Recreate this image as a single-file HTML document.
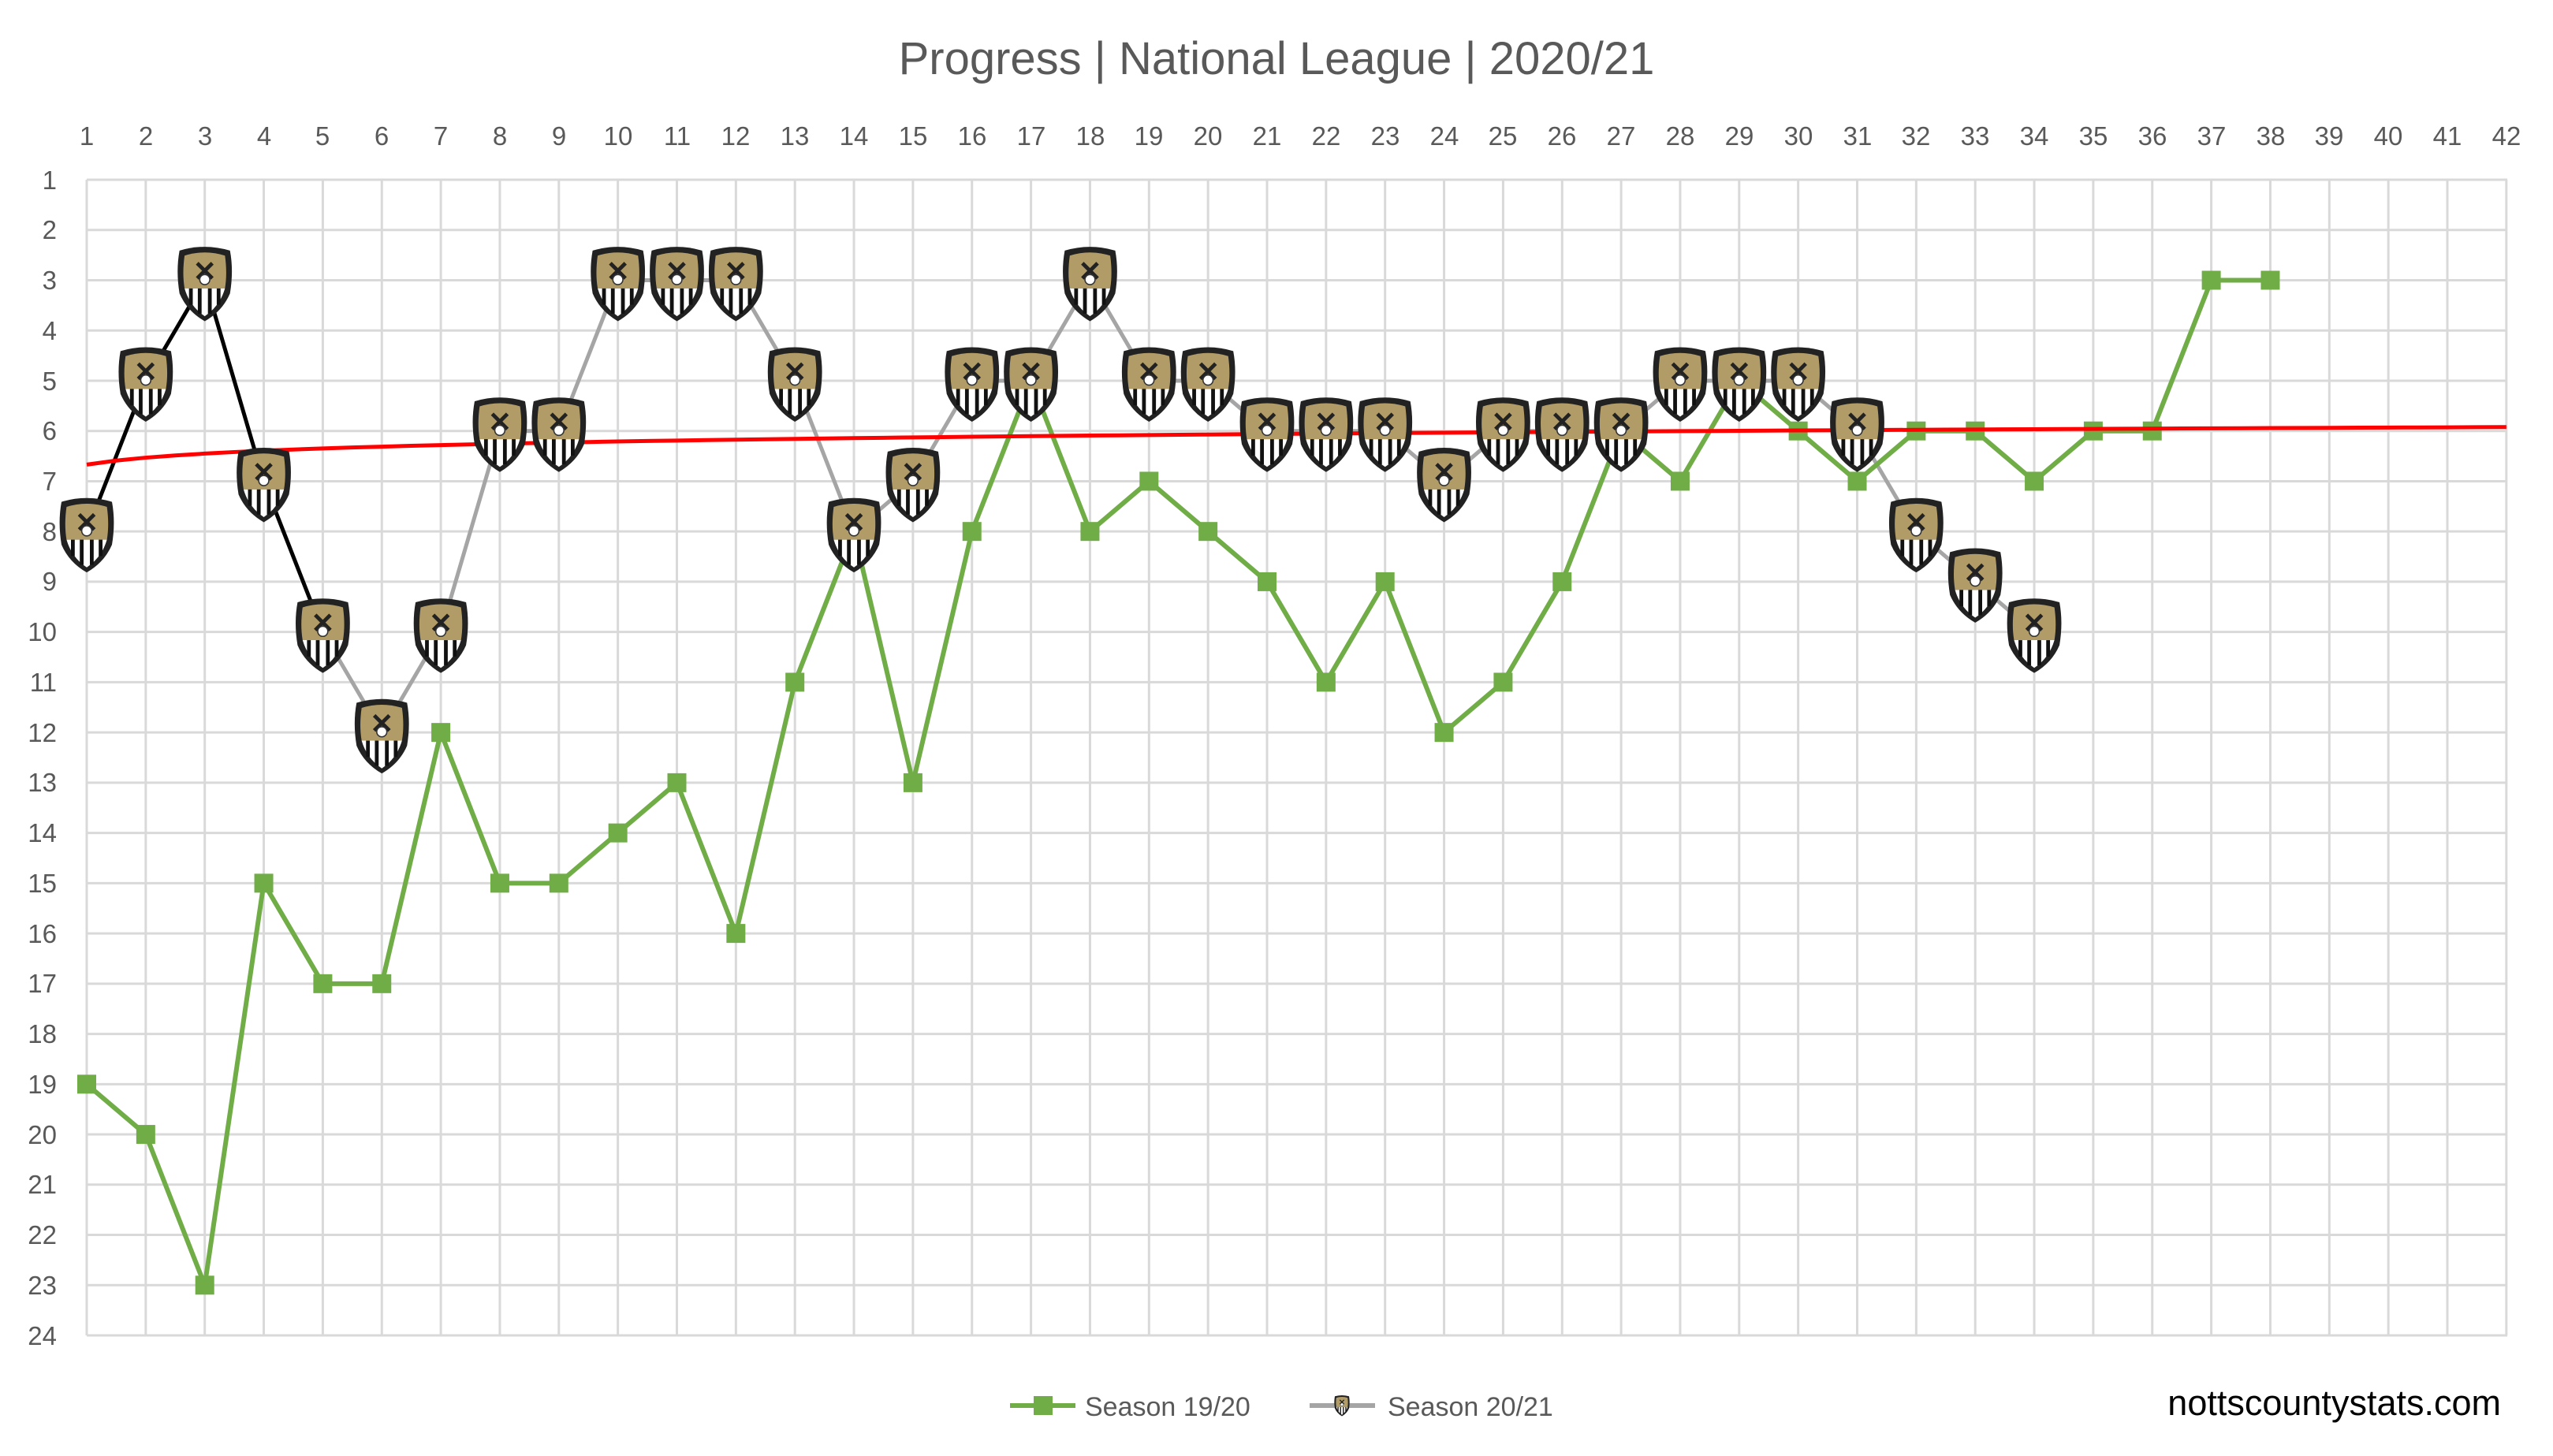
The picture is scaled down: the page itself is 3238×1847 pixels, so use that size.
<!DOCTYPE html>
<html><head><meta charset="utf-8"><style>
body{margin:0;background:#fff;}
svg text{font-family:"Liberation Sans",sans-serif;fill:#595959;}
</style></head><body>
<svg id="s" width="3238" height="1842" xmlns="http://www.w3.org/2000/svg">
<defs>
<g id="crest">
<path d="M-20,-26 Q0,-32 20,-26 Q23,-10 20,8 Q14,22 0,30 Q-14,22 -20,8 Q-23,-10 -20,-26Z" fill="#222"/>
<path d="M-16,-22 Q0,-27 16,-22 Q18,-8 16,4 L-16,4 Q-18,-8 -16,-22Z" fill="#b19c68"/>
<path d="M-16,4 L16,4 Q12,18 0,26 Q-12,18 -16,4Z" fill="#fff"/>
<g stroke="#111" stroke-width="3"><line x1="-11" y1="4" x2="-11" y2="17"/><line x1="-4" y1="4" x2="-4" y2="24"/><line x1="4" y1="4" x2="4" y2="24"/><line x1="11" y1="4" x2="11" y2="17"/></g>
<path d="M-6,-16 L6,-4 M6,-16 L-6,-4" stroke="#222" stroke-width="3"/>
<circle cx="0" cy="-3" r="4" fill="#fff" stroke="#333" stroke-width="1"/>
</g>
</defs>
<text x="1619" y="94" font-size="58" text-anchor="middle">Progress | National League | 2020/21</text>
<g id="grid" stroke="#d9d9d9" stroke-width="3"></g>
<g font-size="33" text-anchor="middle" id="xl">
<text x="110" y="184">1</text><text x="185" y="184">2</text><text x="260" y="184">3</text><text x="335" y="184">4</text><text x="409" y="184">5</text><text x="484" y="184">6</text><text x="559" y="184">7</text><text x="634" y="184">8</text><text x="709" y="184">9</text><text x="784" y="184">10</text><text x="859" y="184">11</text><text x="933" y="184">12</text><text x="1008" y="184">13</text><text x="1083" y="184">14</text><text x="1158" y="184">15</text><text x="1233" y="184">16</text><text x="1308" y="184">17</text><text x="1383" y="184">18</text><text x="1457" y="184">19</text><text x="1532" y="184">20</text><text x="1607" y="184">21</text><text x="1682" y="184">22</text><text x="1757" y="184">23</text><text x="1832" y="184">24</text><text x="1906" y="184">25</text><text x="1981" y="184">26</text><text x="2056" y="184">27</text><text x="2131" y="184">28</text><text x="2206" y="184">29</text><text x="2281" y="184">30</text><text x="2356" y="184">31</text><text x="2430" y="184">32</text><text x="2505" y="184">33</text><text x="2580" y="184">34</text><text x="2655" y="184">35</text><text x="2730" y="184">36</text><text x="2805" y="184">37</text><text x="2880" y="184">38</text><text x="2954" y="184">39</text><text x="3029" y="184">40</text><text x="3104" y="184">41</text><text x="3179" y="184">42</text>
</g>
<g font-size="33" text-anchor="end">
<text x="72" y="240">1</text><text x="72" y="303">2</text><text x="72" y="367">3</text><text x="72" y="431">4</text><text x="72" y="495">5</text><text x="72" y="558">6</text><text x="72" y="622">7</text><text x="72" y="686">8</text><text x="72" y="749">9</text><text x="72" y="813">10</text><text x="72" y="877">11</text><text x="72" y="941">12</text><text x="72" y="1004">13</text><text x="72" y="1068">14</text><text x="72" y="1132">15</text><text x="72" y="1196">16</text><text x="72" y="1259">17</text><text x="72" y="1323">18</text><text x="72" y="1387">19</text><text x="72" y="1451">20</text><text x="72" y="1514">21</text><text x="72" y="1578">22</text><text x="72" y="1642">23</text><text x="72" y="1706">24</text>
</g>
<g id="data"></g>
<line x1="1281" y1="1783" x2="1364" y2="1783" stroke="#70ad47" stroke-width="6"/>
<rect x="1311" y="1771" width="24" height="24" fill="#70ad47"/>
<text x="1376" y="1796" font-size="34">Season 19/20</text>
<line x1="1661" y1="1783" x2="1744" y2="1783" stroke="#a5a5a5" stroke-width="6"/>
<use href="#crest" transform="translate(1702,1783) scale(0.45)"/>
<text x="1760" y="1796" font-size="34">Season 20/21</text>
<text x="3172" y="1795" font-size="45" text-anchor="end" style="fill:#000">nottscountystats.com</text>
</svg>
<script>
var NS="http://www.w3.org/2000/svg";
function X(i){return 110+74.85*(i-1);}function Y(r){return 228+63.74*(r-1);}
var g=document.getElementById('grid'),d=document.getElementById('data');
function el(p,tag,a){var e=document.createElementNS(NS,tag);for(var k in a)e.setAttribute(k,a[k]);p.appendChild(e);return e;}
for(var i=1;i<=42;i++)el(g,'line',{x1:X(i),y1:228,x2:X(i),y2:1694});
for(var r=1;r<=24;r++)el(g,'line',{x1:110,y1:Y(r),x2:3180,y2:Y(r)});
var gr=[19,20,23,15,17,17,12,15,15,14,13,16,11,8,13,8,5,8,7,8,9,11,9,12,11,9,6,7,5,6,7,6,6,7,6,6,3,3];
var cr=[8,5,3,7,10,12,10,6,6,3,3,3,5,8,7,5,5,3,5,5,6,6,6,7,6,6,6,5,5,5,6,8,9,10];
el(d,'polyline',{points:cr.slice(4).map(function(v,i){return X(i+5)+','+Y(v)}).join(' '),fill:'none',stroke:'#a5a5a5','stroke-width':5});
el(d,'polyline',{points:cr.slice(0,5).map(function(v,i){return X(i+1)+','+Y(v)}).join(' '),fill:'none',stroke:'#000','stroke-width':5});
el(d,'polyline',{points:gr.map(function(v,i){return X(i+1)+','+Y(v)}).join(' '),fill:'none',stroke:'#70ad47','stroke-width':6});
gr.forEach(function(v,i){el(d,'rect',{x:X(i+1)-12,y:Y(v)-12,width:24,height:24,fill:'#70ad47'});});
var p=[];for(var x=1;x<=42;x+=0.5)p.push(X(x)+','+Y(6.67-0.2*Math.log(x)));
el(d,'polyline',{points:p.join(' '),fill:'none',stroke:'#ff0000','stroke-width':5});
cr.forEach(function(v,i){el(d,'use',{href:'#crest',transform:'translate('+X(i+1)+','+(Y(v)+4)+') scale(1.6)'});});
</script>
</body></html>
